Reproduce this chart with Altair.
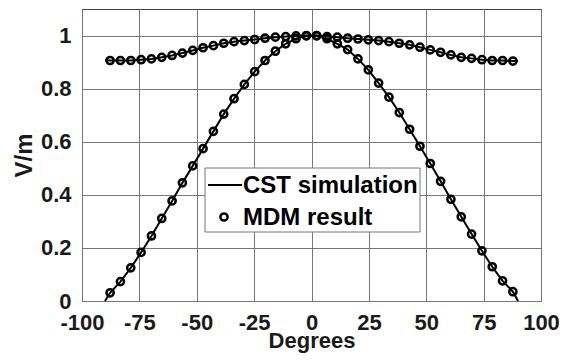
import altair as alt
import pandas as pd

# ---- data ----
ANGLES = [-87.75, -83.25, -78.75, -74.25, -69.75, -65.25, -60.75, -56.25, -51.75, -47.25,
          -42.75, -38.25, -33.75, -29.25, -24.75, -20.25, -15.75, -11.25, -6.75, -2.25,
          2.25, 6.75, 11.25, 15.75, 20.25, 24.75, 29.25, 33.75, 38.25, 42.75,
          47.25, 51.75, 56.25, 60.75, 65.25, 69.75, 74.25, 78.75, 83.25, 87.75]

MDM_NARROW = [0.031, 0.073, 0.125, 0.183, 0.245, 0.311, 0.377, 0.445, 0.509, 0.574,
              0.639, 0.704, 0.762, 0.816, 0.864, 0.906, 0.941, 0.969, 0.988, 0.999,
              0.999, 0.988, 0.969, 0.947, 0.912, 0.871, 0.821, 0.768, 0.710, 0.647,
              0.583, 0.518, 0.451, 0.383, 0.317, 0.252, 0.189, 0.129, 0.076, 0.035]

MDM_WIDE = [0.906, 0.906, 0.906, 0.909, 0.912, 0.918, 0.925, 0.934, 0.944, 0.954,
            0.962, 0.971, 0.977, 0.981, 0.985, 0.990, 0.994, 0.996, 0.999, 1.000,
            1.000, 0.996, 0.994, 0.990, 0.987, 0.984, 0.981, 0.977, 0.971, 0.965,
            0.956, 0.946, 0.937, 0.927, 0.918, 0.914, 0.909, 0.906, 0.906, 0.904]

CST_ANGLES = [-90.0] + ANGLES + [90.0]
CST_NARROW = [0.0] + MDM_NARROW + [0.0]
CST_WIDE = [0.907] + MDM_WIDE + [0.904]

X_TICKS = [-100, -75, -50, -25, 0, 25, 50, 75, 100]
Y_TICKS = [0, 0.2, 0.4, 0.6, 0.8, 1]
LEGEND_LABELS = ["CST simulation", "MDM result"]

FONT = "Liberation Sans"
TXT = "#1a1a1a"

cst = pd.concat([
    pd.DataFrame({"angle": CST_ANGLES, "v": CST_NARROW, "curve": "narrow"}),
    pd.DataFrame({"angle": CST_ANGLES, "v": CST_WIDE, "curve": "wide"}),
])
mdm = pd.concat([
    pd.DataFrame({"angle": ANGLES, "v": MDM_NARROW, "curve": "narrow"}),
    pd.DataFrame({"angle": ANGLES, "v": MDM_WIDE, "curve": "wide"}),
])

xscale = alt.Scale(domain=[-100, 100], nice=False, zero=False)
yscale = alt.Scale(domain=[0, 1.1], nice=False, zero=False)

xaxis = alt.Axis(values=X_TICKS, title="Degrees", labelExpr="datum.value + ''",
                 grid=True, ticks=False, domain=False, labelFontSize=22,
                 labelFontWeight="bold", labelFont=FONT, labelColor=TXT,
                 labelPadding=11, titleFontSize=22, titleFontWeight="bold",
                 titleFont=FONT, titleColor=TXT, titleY=46,
                 titleBaseline="alphabetic",
                 gridColor="#777", gridOpacity=1, labelFlush=False)
yaxis = alt.Axis(values=Y_TICKS, title="V/m", labelExpr="datum.value + ''",
                 grid=True, ticks=False, domain=False, labelFontSize=22,
                 labelFontWeight="bold", labelFont=FONT, labelColor=TXT,
                 labelPadding=11, titleFontSize=24, titleFontWeight="bold",
                 titleFont=FONT, titleColor=TXT, titlePadding=4,
                 gridColor="#777", gridOpacity=1, labelFlush=False)

lines = alt.Chart(cst).mark_line(color="black", strokeWidth=2).encode(
    x=alt.X("angle:Q", scale=xscale, axis=xaxis),
    y=alt.Y("v:Q", scale=yscale, axis=yaxis),
    detail="curve:N",
    order="angle:Q",
)

points = alt.Chart(mdm).mark_point(shape="circle", filled=False, size=52,
                                   strokeWidth=2.5, color="black", opacity=1).encode(
    x=alt.X("angle:Q", scale=xscale),
    y=alt.Y("v:Q", scale=yscale),
)

one = alt.Data(values=[{"k": 0}])

legend_box = alt.Chart(one).mark_rect(fill="white", stroke="#777", strokeWidth=1).encode(
    x=alt.value(123), x2=alt.value(338), y=alt.value(159), y2=alt.value(223))
legend_line = alt.Chart(one).mark_rule(color="black", strokeWidth=2).encode(
    x=alt.value(126), x2=alt.value(160), y=alt.value(176))
legend_pt = alt.Chart(one).mark_point(shape="circle", filled=False, size=52,
                                      strokeWidth=2.5, color="black", opacity=1).encode(
    x=alt.value(142), y=alt.value(208))
legend_t1 = alt.Chart(one).mark_text(align="left", baseline="middle", fontSize=24,
                                     fontWeight="bold", font=FONT, color="black").encode(
    x=alt.value(161), y=alt.value(177), text=alt.value(LEGEND_LABELS[0]))
legend_t2 = alt.Chart(one).mark_text(align="left", baseline="middle", fontSize=24,
                                     fontWeight="bold", font=FONT, color="black").encode(
    x=alt.value(161), y=alt.value(209), text=alt.value(LEGEND_LABELS[1]))

chart = alt.layer(lines, points, legend_box, legend_line, legend_pt, legend_t1, legend_t2).properties(
    width=459, height=292,
    autosize=alt.AutoSizeParams(type="none"),
    padding={"left": 74, "top": 1, "right": 18, "bottom": 53},
    background="white",
).configure_view(stroke="#444", strokeWidth=1)

chart.save("out.html", embed_options={"renderer": "svg", "actions": False})
